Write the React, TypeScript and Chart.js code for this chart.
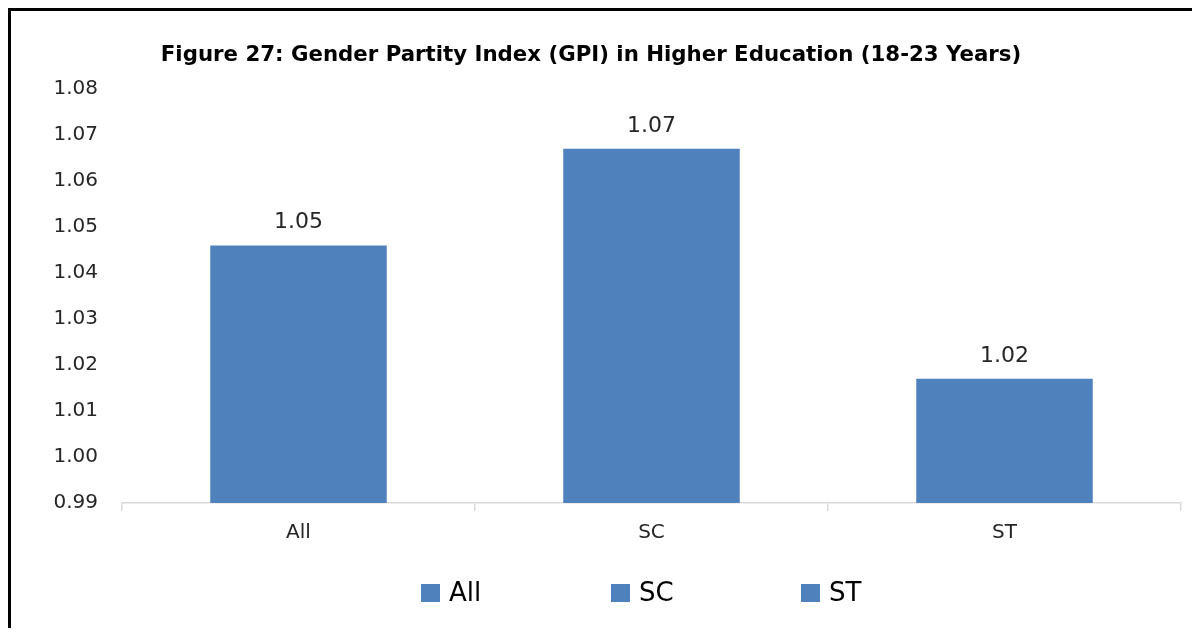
import React, { useEffect, useRef } from "react";
import { Chart, registerables } from "chart.js";

Chart.register(...registerables);

const categories = ["All", "SC", "ST"];
const gpiValues = [1.046, 1.067, 1.017];
const legendLabels = ["All", "SC", "ST"];
const titleText = "Figure 27: Gender Partity Index (GPI) in Higher Education (18-23 Years)";
const yMin = 0.99;
const yMax = 1.08;
const yStep = 0.01;

const BAR_COLOR = "#4f81bd";
const FONT = "'DejaVu Sans', 'Open Sans', sans-serif";

const valueLabelPlugin = {
  id: "valueLabels",
  afterDatasetsDraw(chart: any) {
    const { ctx } = chart;
    const meta = chart.getDatasetMeta(0);
    ctx.save();
    ctx.font = `22px ${FONT}`;
    ctx.fillStyle = "#262626";
    ctx.textAlign = "center";
    ctx.textBaseline = "alphabetic";
    meta.data.forEach((bar: any, i: number) => {
      const v = chart.data.datasets[0].data[i] as number;
      ctx.fillText(v.toFixed(2), bar.x, bar.y - 17);
    });
    ctx.restore();
  },
};

const customLegendPlugin = {
  id: "customLegend",
  afterDraw(chart: any) {
    const { ctx, chartArea } = chart;
    const cx = (chartArea.left + chartArea.right) / 2;
    const cy = chartArea.bottom + 90;
    const spacing = 190;
    ctx.save();
    ctx.font = `26px ${FONT}`;
    ctx.textAlign = "left";
    ctx.textBaseline = "middle";
    legendLabels.forEach((lab, i) => {
      const x0 = cx - 40.5 + (i - 1) * spacing;
      ctx.fillStyle = BAR_COLOR;
      ctx.fillRect(x0, cy - 9, 19, 18);
      ctx.fillStyle = "#000";
      ctx.fillText(lab, x0 + 28, cy + 1);
    });
    ctx.restore();
  },
};

export default function App() {
  const canvasRef = useRef<HTMLCanvasElement | null>(null);

  useEffect(() => {
    if (!canvasRef.current) return;
    const chart = new Chart(canvasRef.current, {
      type: "bar",
      data: {
        labels: categories,
        datasets: [
          {
            label: "GPI",
            data: gpiValues,
            backgroundColor: BAR_COLOR,
            borderWidth: 0,
            categoryPercentage: 0.5,
            barPercentage: 1,
          },
        ],
      },
      options: {
        animation: false,
        responsive: true,
        maintainAspectRatio: false,
        layout: { padding: { left: 0, right: 19, top: 0, bottom: 85 } },
        plugins: {
          legend: { display: false },
          tooltip: { enabled: false },
          title: {
            display: true,
            text: titleText,
            color: "#000",
            font: { family: FONT, size: 21.3, weight: "bold" },
            padding: { top: 32, bottom: 20.4 },
          },
        },
        scales: {
          x: {
            grid: {
              display: true,
              drawOnChartArea: false,
              drawTicks: true,
              tickLength: 8,
              color: "#d9d9d9",
              lineWidth: 1.5,
            },
            border: { display: true, color: "#d9d9d9", width: 1.5 },
            ticks: {
              color: "#262626",
              font: { family: FONT, size: 20 },
              padding: 10,
            },
            afterFit(scale: any) {
              scale.height = 40;
            },
          },
          y: {
            min: yMin,
            max: yMax,
            grid: { display: false, drawTicks: false },
            border: { display: false },
            ticks: {
              stepSize: yStep,
              color: "#262626",
              font: { family: FONT, size: 20 },
              padding: 24,
              callback: (v: any) => Number(v).toFixed(2),
            },
            afterFit(scale: any) {
              scale.width = 121;
            },
          },
        },
      },
      plugins: [valueLabelPlugin, customLegendPlugin],
    });
    return () => chart.destroy();
  }, []);

  return (
    <div style={{ position: "relative", width: 1192, height: 620, overflow: "hidden" }}>
      <div
        style={{
          position: "absolute",
          left: 0,
          top: 0,
          width: 1192,
          height: 620,
          boxSizing: "border-box",
          borderTop: "3px solid #000",
          borderLeft: "3px solid #000",
        }}
      />
      <div style={{ position: "absolute", left: -7, top: 3, width: 1199, height: 617 }}>
        <canvas ref={canvasRef} />
      </div>
    </div>
  );
}
